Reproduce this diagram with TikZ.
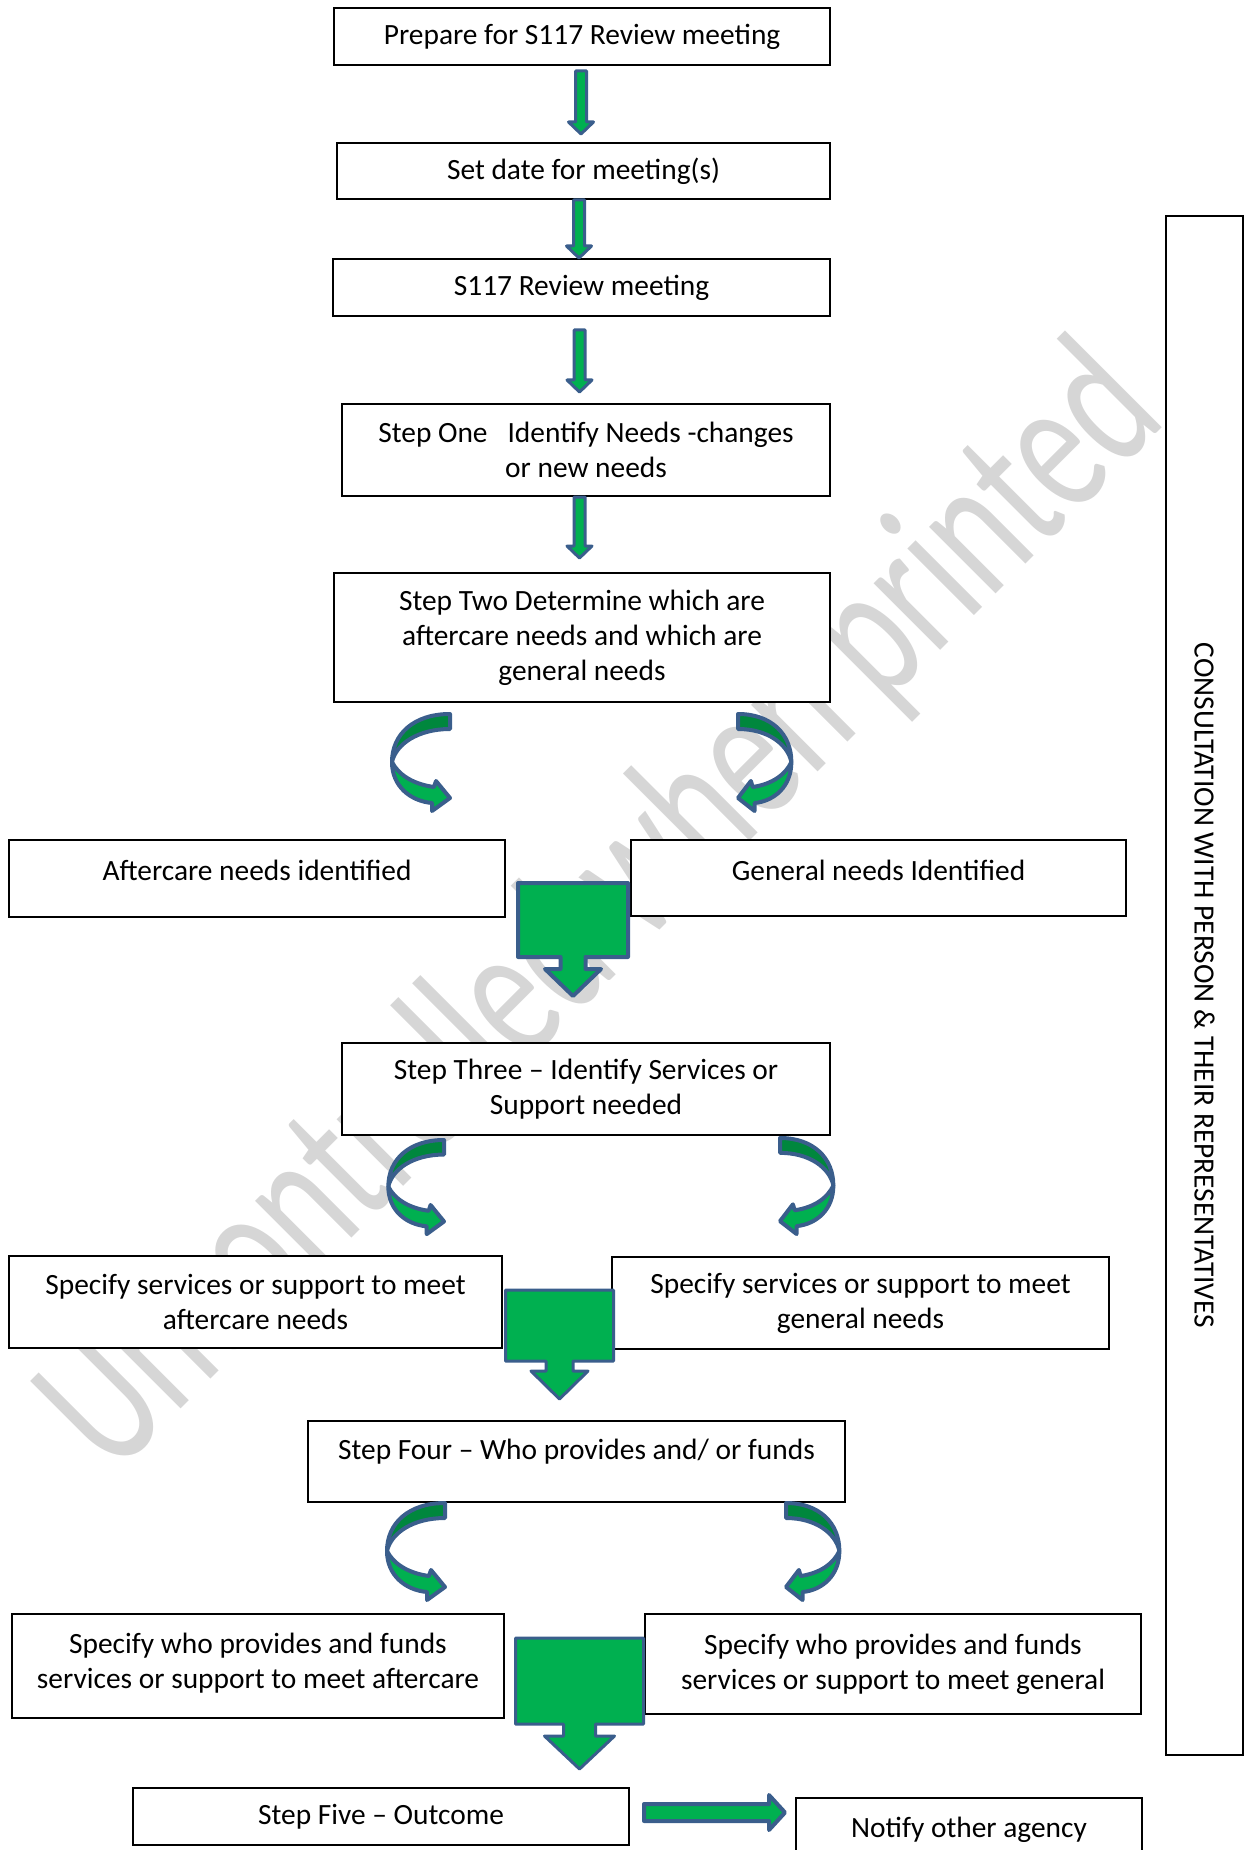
\documentclass[tikz,border=0pt]{standalone}
\usepackage{fontspec}
\setmainfont{Carlito}
\usetikzlibrary{calc,positioning}

\definecolor{arrgreen}{HTML}{00B050}
\definecolor{arrdark}{HTML}{00873D}
\definecolor{arrblue}{HTML}{3A5E8C}
\definecolor{wmgray}{HTML}{D6D6D6}

\tikzset{
  box/.style={draw, line width=1pt, fill=white, align=center, inner sep=0pt},
  raised/.style={text depth=#1},
  % straight block arrow pointing down, start = top middle, target = tip
  blockdown/.style n args={5}{fill=arrgreen, draw=arrblue, line width=1.5pt, line join=round,
    to path={($(\tikztostart)+(-#1,0)$) -- ($(\tikztostart)+(#1,0)$)
      -- ($(\tikztotarget)+(#1,-#2)$) -- ($(\tikztotarget)+(#3,-#2)$)
      -- ($(\tikztotarget)+(#3,-#4)$) -- ($(\tikztotarget)+(#5,-#4)$)
      -- (\tikztotarget)
      -- ($(\tikztotarget)+(-#5,-#4)$) -- ($(\tikztotarget)+(-#3,-#4)$)
      -- ($(\tikztotarget)+(-#3,-#2)$) -- ($(\tikztotarget)+(-#1,-#2)$) -- cycle}},
  blockright/.style n args={3}{fill=arrgreen, draw=arrblue, line width=2pt, line join=round,
    to path={($(\tikztostart)+(0,-#1)$) -- ($(\tikztotarget)+(-#2,-#1)$)
      -- ($(\tikztotarget)+(-#2,-#3)$) -- (\tikztotarget) -- ($(\tikztotarget)+(-#2,#3)$)
      -- ($(\tikztotarget)+(-#2,#1)$) -- ($(\tikztostart)+(0,#1)$) -- cycle}},
  pics/bendarrow/.style={code={
    \filldraw[fill=arrdark, draw=arrblue, line width=2pt, line join=round]
      (0,0) .. controls (-36,0) and (-58,20) .. (-58,48)
      .. controls (-54,30) and (-32,15) .. (0,15) -- cycle; %back
    \filldraw[fill=arrgreen, draw=arrblue, line width=2pt, line join=round]
      (-58,48) .. controls (-58,72) and (-40,87) .. (-18,89)
      -- (-18,97) -- (0,84) -- (-14,67) -- (-16,73)
      .. controls (-38,70) and (-52,60) .. (-58,48) -- cycle; %front
  }}
}

\begin{document}
\begin{tikzpicture}[x=0.5pt,y=-0.5pt,font=\fontsize{14.7}{17.5}\selectfont]
\useasboundingbox (0,0) rectangle (1245,1850);

% watermark
\node[text=wmgray, font=\fontsize{68}{68}\selectfont, rotate=45, yscale=1.45] (stamp) at (604,912) {Uncontrolled when printed};

\node[box, minimum width=248pt, minimum height=28.5pt] (prep) at (582,36.5) {Prepare for S117 Review meeting};
\node[box, minimum width=246.5pt, minimum height=28pt] (setdate) at (583.5,171) {Set date for meeting(s)};
\node[box, minimum width=248.5pt, minimum height=28.5pt] (review) at (581.5,287.5) {S117 Review meeting};
\node[box, minimum width=244pt, minimum height=46pt] (stepone) at (586,450) {Step One\ \ \ Identify Needs -changes\\or new needs};
\node[box, minimum width=248pt, minimum height=64.5pt] (steptwo) at (582,637.5) {Step Two Determine which are\\aftercare needs and which are\\general needs};

\node[box, raised=8pt, minimum width=248pt, minimum height=38.5pt] (aftercare) at (257,878.5) {Aftercare needs identified};
\node[box, raised=8pt, minimum width=247.5pt, minimum height=38pt] (general) at (878.5,878) {General needs Identified};

\node[box, minimum width=244pt, minimum height=46pt] (stepthree) at (586,1089) {Step Three – Identify Services or\\Support needed};
\node[box, minimum width=246.5pt, minimum height=46pt] (svcafter) at (255.5,1302) {Specify services or support to meet\\aftercare needs};
\node[box, minimum width=248.5pt, minimum height=46pt] (svcgeneral) at (860.5,1303) {Specify services or support to meet\\general needs};

\node[box, raised=12pt, minimum width=268.5pt, minimum height=40.5pt] (stepfour) at (576.5,1461.5) {Step Four – Who provides and/ or funds};
\node[box, raised=5pt, minimum width=246pt, minimum height=52pt] (fundafter) at (258,1666) {Specify who provides and funds\\services or support to meet aftercare};
\node[box, minimum width=248pt, minimum height=50pt] (fundgeneral) at (893,1664) {Specify who provides and funds\\services or support to meet general};

\node[box, minimum width=248pt, minimum height=28.5pt] (stepfive) at (381,1816.5) {Step Five – Outcome};
\node[box, minimum width=173pt, minimum height=32pt] (notify) at (969,1830) {Notify other agency};

\node[box, rotate=-90, minimum width=769.5pt, minimum height=38.5pt] (consult) at (1204.5,985.5) {CONSULTATION WITH PERSON \& THEIR REPRESENTATIVES};

% thin arrows down the top
\coordinate (a1s) at ($(prep.south)+(-1,5)$);
\coordinate (a1e) at ($(a1s |- setdate.north)+(0,-8)$);
\coordinate (a2s) at ($(setdate.south)+(-4.5,0)$);
\coordinate (a2e) at (a2s |- review.north);
\coordinate (a3s) at ($(review.south)+(-2,13)$);
\coordinate (a3e) at ($(a3s |- stepone.north)+(0,-11)$);
\coordinate (a4s) at ($(stepone.south)+(-6.5,0)$);
\coordinate (a4e) at ($(a4s |- steptwo.north)+(0,-14)$);
\foreach \s/\e in {a1s/a1e,a2s/a2e,a3s/a3e,a4s/a4e}
  \path[blockdown={5.5}{12}{5.5}{12}{12.5}] (\s) to (\e);

% curved arrows
\pic at ($(steptwo.south west)+(117,11)$) {bendarrow};
\pic[xscale=-0.92] at ($(steptwo.south east)+(-93,11)$) {bendarrow};
\pic[xscale=0.96, yscale=0.97] at ($(stepthree.south west)+(103,4)$) {bendarrow};
\pic[xscale=-0.92, yscale=0.99] at ($(stepthree.south east)+(-51,2)$) {bendarrow};
\pic at ($(stepfour.south west)+(138,0)$) {bendarrow};
\pic[xscale=-0.92] at ($(stepfour.south east)+(-60,0)$) {bendarrow};

% big arrows between the pairs
\coordinate (g1s) at ($(aftercare.north east)+(67,44)$);
\coordinate (g1e) at ($(g1s |- stepthree.north)+(0,-46)$);
\coordinate (g2s) at ($(svcafter.east)+(56.5,-12)$);
\coordinate (g2e) at ($(g2s |- stepfour.north)+(0,-21)$);
\coordinate (g3s) at ($(fundafter.east)+(74.5,-28)$);
\coordinate (g3e) at ($(g3s |- stepfive.north)+(0,-18)$);
\path[blockdown={55}{39}{12.5}{27}{28}, line width=2pt] (g1s) to (g1e);
\path[blockdown={54}{38}{13.5}{28}{28.5}, line width=1.5pt] (g2s) to (g2e);
\path[blockdown={64}{45}{16}{33}{35}, line width=1.5pt] (g3s) to (g3e);

% outcome -> notify
\coordinate (r1s) at ($(stepfive.east)+(14,-4)$);
\coordinate (r1e) at ($(notify.west |- r1s)+(-10,0)$);
\path[blockright={8.5}{16}{17.5}] (r1s) to (r1e);
\end{tikzpicture}
\end{document}
